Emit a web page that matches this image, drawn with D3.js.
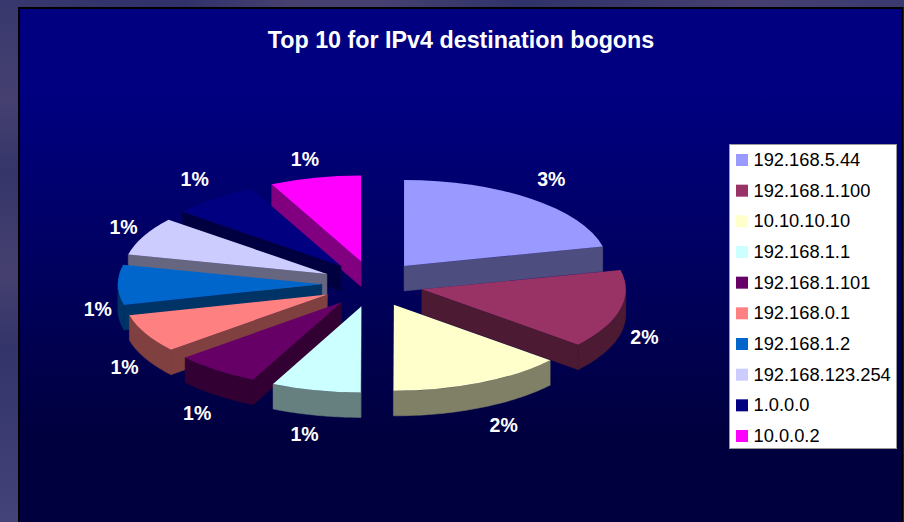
<!DOCTYPE html>
<html><head><meta charset="utf-8">
<script src="https://cdn.jsdelivr.net/npm/d3@7"></script>
<style>html,body{margin:0;padding:0;background:#3b3b70;overflow:hidden}svg{display:block}text{font-family:"Liberation Sans",Arial,sans-serif}</style>
</head><body><svg id="c" width="904" height="522"></svg>
<script>
const title = "Top 10 for IPv4 destination bogons";
const categories = ["192.168.5.44","192.168.1.100","10.10.10.10","192.168.1.1","192.168.1.101","192.168.0.1","192.168.1.2","192.168.123.254","1.0.0.0","10.0.0.2"];
const values = [0.029,0.020,0.0189,0.0096,0.0092,0.0098,0.0102,0.0098,0.0094,0.0098];
const colors = ["#9999FF","#993366","#FFFFCC","#CCFFFF","#660066","#FF8080","#0066CC","#CCCCFF","#000080","#FF00FF"];
const labelNudge = [[3,-2],[-3,-2],[12,-2],[-5,-2],[-2,1],[4,-1],[8,-1],[5,1],[-2,-2],[-4,3]];

const svg = d3.select("#c");
const defs = svg.append("defs");
function grad(id, horizontal, stops){
  const g = defs.append("linearGradient").attr("id",id).attr("x1",0).attr("y1",0)
    .attr("x2",horizontal?1:0).attr("y2",horizontal?0:1);
  stops.forEach(s=>g.append("stop").attr("offset",s[0]).attr("stop-color",s[1]));
}
grad("plate",false,[[0.17,"#000080"],[0.83,"#00003E"],[1,"#00003E"]]);
grad("slideTop",true,[[0,"#38386e"],[0.2,"#30306a"],[0.32,"#46406f"],[0.42,"#454070"],[0.58,"#2f3269"],[0.83,"#463f70"],[1,"#3a3a70"]]);
grad("slideLeft",false,[[0,"#38386e"],[0.19,"#454070"],[0.33,"#35356a"],[0.52,"#45406f"],[0.67,"#33346a"],[0.92,"#3f3f75"],[1,"#44447a"]]);
svg.append("rect").attr("width",904).attr("height",522).attr("fill","url(#slideLeft)");
svg.append("rect").attr("width",904).attr("height",8).attr("fill","url(#slideTop)");
svg.append("rect").attr("x",19).attr("y",8).attr("width",883.5).attr("height",520).attr("fill","url(#plate)").attr("stroke","#000").attr("stroke-width",2);

svg.append("text").attr("x",461).attr("y",48).attr("text-anchor","middle").attr("font-size",23.3).attr("font-weight","bold").attr("fill","#fff").text(title);

// pie geometry
const cx = 372.5, cy = 284, rx = 204, ry = 86, depth = 25, ex = 50.7, ey = 23, lx = 232, ly = 108;
const yScale = ry / rx;
const pie = d3.pie().sort(null).startAngle(0).endAngle(2*Math.PI);
const arcs = pie(values).map((d,i)=>{
  const mid = (d.startAngle+d.endAngle)/2;
  return {...d, i, mid, ax: cx+ex*Math.sin(mid), ay: cy-ey*Math.cos(mid)};
});
const arc = d3.arc().innerRadius(0).outerRadius(rx);
const line = d3.line();
const rim = (d,t)=>[d.ax+rx*Math.sin(t), d.ay-ry*Math.cos(t)];
const dn = p=>[p[0],p[1]+depth];
const order = arcs.slice().sort((a,b)=>Math.cos(b.mid)-Math.cos(a.mid));
const g = svg.append("g");
order.forEach(d=>{
  const side = d3.color(colors[d.i]); const sideC = d3.rgb(side.r*0.5,side.g*0.5,side.b*0.5).formatHex();
  const s = g.append("g");
  const wall = (a,b)=>s.append("path").attr("d",line([a,b,dn(b),dn(a)])+"Z").attr("fill",sideC).attr("stroke",sideC).attr("stroke-width",0.5);
  if (d.startAngle > Math.PI+1e-6) wall([d.ax,d.ay],rim(d,d.startAngle));
  if (d.endAngle < Math.PI-1e-6) wall([d.ax,d.ay],rim(d,d.endAngle));
  const a0 = Math.max(d.startAngle,Math.PI/2), a1 = Math.min(d.endAngle,1.5*Math.PI);
  if (a1 > a0) {
    const pts = d3.range(0,41).map(k=>rim(d,a0+(a1-a0)*k/40));
    s.append("path").attr("d",line(pts.concat(pts.slice().reverse().map(dn)))+"Z").attr("fill",sideC).attr("stroke",sideC).attr("stroke-width",0.5);
  }
  s.append("path").attr("d",arc(d)).attr("transform",`translate(${d.ax},${d.ay}) scale(1,${yScale})`).attr("fill",colors[d.i]);
});

// data labels
const pct = d3.format(".0%");
arcs.forEach(d=>{
  const c = Math.cos(d.mid), n = labelNudge[d.i];
  svg.append("text").attr("x",d.ax+lx*Math.sin(d.mid)+n[0]).attr("y",d.ay-ly*c+(c<0?depth:0)+6.5+n[1])
    .attr("text-anchor","middle").attr("font-size",19.5).attr("font-weight","bold").attr("fill","#fff").text(pct(d.data));
});

// legend
const lg = svg.append("g");
lg.append("rect").attr("x",729.5).attr("y",144.5).attr("width",167).attr("height",304).attr("fill","#fff").attr("stroke","#999").attr("stroke-width",1);
const ly2 = d3.scalePoint().domain(categories).range([160,436]);
categories.forEach((c,i)=>{
  const y = ly2(c);
  lg.append("rect").attr("x",736).attr("y",y-6).attr("width",12).attr("height",12).attr("fill",colors[i]);
  lg.append("text").attr("x",753.5).attr("y",y+6).attr("font-size",18.3).attr("fill","#000").text(c);
});
</script></body></html>
